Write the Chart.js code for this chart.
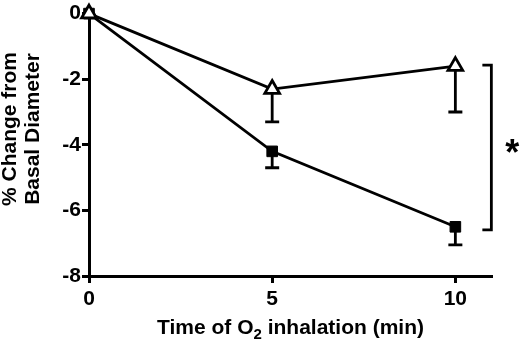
<!DOCTYPE html>
<html lang="en">
<head>
  <meta charset="UTF-8" />
  <title>% Change from Basal Diameter</title>
  <style>
    html, body {
      margin: 0;
      padding: 0;
      background: #fff;
    }
    #chart {
      display: block;
    }
  </style>
  <script src="https://cdn.jsdelivr.net/npm/chart.js"></script>
</head>
<body>
  <canvas id="chart" width="520" height="345"></canvas>
  <script>
    // values
    const times = [0, 5, 10];
    const xTicks = [0, 5, 10];
    const yTicks = [0, -2, -4, -6, -8];
    const triangleMean = [0, -2.3, -1.6];
    const triangleErr = [0, 1.0, 1.4];
    const squareMean = [0, -4.2, -6.5];
    const squareErr = [0, 0.5, 0.55];

    const FONT = '"Liberation Sans", Arial, sans-serif';

    // one-sided (downward) error bars, the bracket and the star
    const extras = {
      id: 'extras',
      beforeDatasetsDraw(chart) {
        const ctx = chart.ctx;
        const x = chart.scales.x, y = chart.scales.y;
        ctx.save();
        ctx.strokeStyle = '#000';
        ctx.lineWidth = 2.8;
        const bars = [[triangleMean, triangleErr], [squareMean, squareErr]];
        bars.forEach(([mean, err]) => {
          times.forEach((t, i) => {
            if (!err[i]) return;
            const px = x.getPixelForValue(t);
            const y0 = y.getPixelForValue(mean[i]);
            const y1 = y.getPixelForValue(mean[i] - err[i]);
            ctx.beginPath();
            ctx.moveTo(px, y0);
            ctx.lineTo(px, y1);
            ctx.moveTo(px - 7, y1);
            ctx.lineTo(px + 7, y1);
            ctx.stroke();
          });
        });
        ctx.restore();
      },
      afterDraw(chart) {
        const ctx = chart.ctx;
        const x = chart.scales.x, y = chart.scales.y;
        const area = chart.chartArea;
        ctx.save();
        // significance bracket
        const bx = x.getPixelForValue(10) + 36;
        const top = y.getPixelForValue(triangleMean[2]) - 1;
        const bot = y.getPixelForValue(squareMean[2]) + 3;
        ctx.strokeStyle = '#000';
        ctx.lineWidth = 2.8;
        ctx.beginPath();
        ctx.moveTo(bx - 9, top);
        ctx.lineTo(bx, top);
        ctx.lineTo(bx, bot);
        ctx.lineTo(bx - 9, bot);
        ctx.stroke();
        ctx.fillStyle = '#000';
        ctx.font = 'bold 36px ' + FONT;
        ctx.textAlign = 'center';
        ctx.textBaseline = 'middle';
        ctx.fillText('*', bx + 21, (top + bot) / 2 + 8);

        // y title, two lines
        ctx.font = 'bold 21px ' + FONT;
        ctx.save();
        ctx.translate(20, 129);
        ctx.rotate(-Math.PI / 2);
        ctx.fillText('% Change from', 0, -10);
        ctx.fillText('Basal Diameter', 0, 13);
        ctx.restore();

        // x title with subscript
        const parts = [['Time of O', 21, 0], ['2', 15, 5], [' inhalation (min)', 21, 0]];
        let total = 0;
        parts.forEach(p => { ctx.font = 'bold ' + p[1] + 'px ' + FONT; total += ctx.measureText(p[0]).width; });
        let cx = (area.left + area.right) / 2 - total / 2;
        ctx.textAlign = 'left';
        ctx.textBaseline = 'alphabetic';
        parts.forEach(p => {
          ctx.font = 'bold ' + p[1] + 'px ' + FONT;
          ctx.fillText(p[0], cx, 334 + p[2]);
          cx += ctx.measureText(p[0]).width;
        });
        ctx.restore();
      }
    };

    new Chart(document.getElementById('chart'), {
      type: 'line',
      data: {
        datasets: [
          {
            label: 'Open triangles',
            data: times.map((t, i) => ({ x: t, y: triangleMean[i] })),
            borderColor: '#000',
            borderWidth: 2.8,
            pointStyle: 'triangle',
            pointRadius: 8.5,
            pointBorderWidth: 2.8,
            pointBackgroundColor: '#fff',
            pointBorderColor: '#000',
            tension: 0,
            clip: false
          },
          {
            label: 'Filled squares',
            data: times.map((t, i) => ({ x: t, y: squareMean[i] })),
            borderColor: '#000',
            borderWidth: 2.8,
            pointStyle: 'rect',
            pointRadius: 7.5,
            pointBorderWidth: 1,
            pointBackgroundColor: '#000',
            pointBorderColor: '#000',
            tension: 0,
            clip: false
          }
        ]
      },
      options: {
        responsive: false,
        animation: false,
        layout: { padding: { top: 8, right: 28, left: 0, bottom: 0 } },
        plugins: {
          legend: { display: false },
          tooltip: { enabled: false }
        },
        scales: {
          x: {
            type: 'linear',
            min: 0,
            max: 11,
            afterBuildTicks: s => { s.ticks = xTicks.map(v => ({ value: v })); },
            afterFit: s => { s.height = 69; },
            grid: { drawOnChartArea: false, tickLength: 7, tickColor: '#000', tickWidth: 3 },
            border: { display: true, color: '#000', width: 3 },
            ticks: { color: '#000', font: { family: FONT, size: 21, weight: 'bold' }, padding: 4, maxRotation: 0 }
          },
          y: {
            min: -8,
            max: 0,
            afterBuildTicks: s => { s.ticks = yTicks.map(v => ({ value: v })); },
            afterFit: s => { s.width = 89; },
            grid: { drawOnChartArea: false, tickLength: 7, tickColor: '#000', tickWidth: 3 },
            border: { display: true, color: '#000', width: 3 },
            ticks: { color: '#000', font: { family: FONT, size: 21, weight: 'bold' }, padding: 1 }
          }
        }
      },
      plugins: [extras]
    });
  </script>
</body>
</html>
